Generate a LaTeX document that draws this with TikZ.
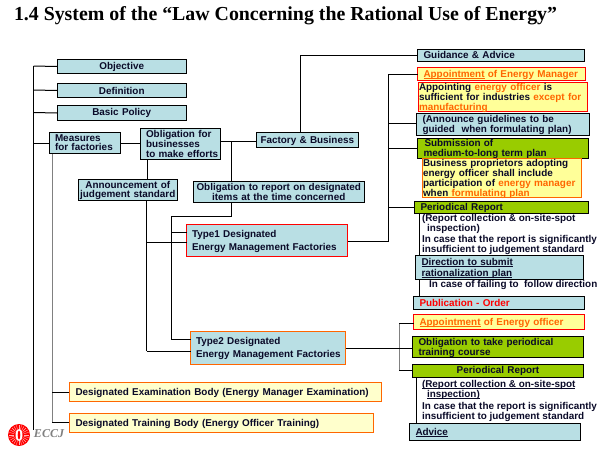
\documentclass[tikz,border=0pt]{standalone}
\usepackage{fontspec}
\setmainfont{Liberation Sans}
\newfontfamily\titlefont{Liberation Serif}
\definecolor{ink}{HTML}{0A0A28}
\definecolor{tealfill}{HTML}{B9DFE4}
\definecolor{yel}{HTML}{FFFF99}
\definecolor{paleyel}{HTML}{FFFFCC}
\definecolor{grn}{HTML}{99CC00}
\definecolor{org}{HTML}{FF6600}
\definecolor{grayline}{HTML}{808080}
\newcommand{\org}[1]{\textcolor{org}{#1}}
\newcommand{\ulin}[1]{\leavevmode\setbox0=\hbox{#1}\rlap{\rule[-1.7pt]{\wd0}{0.8pt}}\box0\relax}
\tikzset{
  x=1pt,y=-1pt,
  every node/.style={font={\fontsize{9.9}{9}\selectfont\bfseries},text=ink,inner ysep=0pt,outer sep=0pt},
  tealbox/.style={draw=black,fill=tealfill,line width=1pt},
  redbox/.style={draw=red,fill=tealfill,line width=1pt},
  orgbox/.style={draw=org,fill=tealfill,line width=1pt},
  yelred/.style={draw=red,fill=yel,line width=1pt},
  yelorg/.style={draw=org,fill=yel,line width=1pt},
  paleorg/.style={draw=org,fill=paleyel,line width=1pt},
  grnbox/.style={draw=black,fill=grn,line width=1pt},
  plain/.style={anchor=north west,align=left,inner sep=0pt},
  conn/.style={draw=black,line width=1pt},
  gconn/.style={draw=grayline,line width=1pt},
}
% left-aligned box: style, name, x1,y1,x2,y2, left indent, text
\newcommand{\mybox}[8]{%
  \pgfmathsetmacro{\mw}{#5-#3}\pgfmathsetmacro{\mh}{#6-#4}%
  \pgfmathsetmacro{\cx}{(#3+#5)/2}\pgfmathsetmacro{\cy}{(#4+#6)/2}%
  \node[#1,minimum width=\mw pt,minimum height=\mh pt,inner xsep=0pt,text width=\mw pt,align=left] (#2) at (\cx,\cy) {\hspace*{#7pt}\raisebox{-1pt}[\height][\depth]{\begin{tabular}{@{}l@{}}#8\end{tabular}}};%
}
% centred box: style, name, x1,y1,x2,y2, text
\newcommand{\mycbox}[7]{%
  \pgfmathsetmacro{\mw}{#5-#3}\pgfmathsetmacro{\mh}{#6-#4}%
  \pgfmathsetmacro{\cx}{(#3+#5)/2}\pgfmathsetmacro{\cy}{(#4+#6)/2}%
  \node[#1,minimum width=\mw pt,minimum height=\mh pt,inner xsep=0pt,text width=\mw pt,align=center] (#2) at (\cx,\cy) {#7};%
}
\begin{document}
\begin{tikzpicture}
\useasboundingbox (0,0) rectangle (600,450);
\fill[white] (0,0) rectangle (600,450);
\node[anchor=base west,inner sep=0pt,text=black,font={\fontsize{19.85}{20}\selectfont\titlefont\bfseries}] (title) at (14,20) {1.4 System of the “Law Concerning the Rational Use of Energy”};

% junction coordinates
\coordinate (sA) at (33.5,66);
\coordinate (sB) at (33.5,90);
\coordinate (sC) at (33.5,112.5);
\coordinate (sD) at (33.5,143);
\coordinate (sE) at (33.5,430);
\coordinate (mB) at (52,153);
\coordinate (mC) at (52,392);
\coordinate (mD) at (52,422);
\coordinate (fJ) at (231,141);
\coordinate (rA) at (231,202);
\coordinate (rB) at (231,216);
\coordinate (rC) at (171,216);
\coordinate (rD) at (171,232);
\coordinate (rE) at (171,339);
\coordinate (aA) at (146.5,200);
\coordinate (aB) at (146.5,242);
\coordinate (aC) at (146.5,351);
\coordinate (gA) at (300,132.5);
\coordinate (gB) at (300,55);
\coordinate (tA) at (348,241);
\coordinate (tB) at (388.5,241);
\coordinate (tT) at (388.5,74);
\coordinate (t1) at (388.5,123);
\coordinate (t2) at (388.5,148);
\coordinate (t3) at (388.5,207);
\coordinate (pA) at (419.5,213);
\coordinate (pB) at (419.5,296);
\coordinate (uA) at (399,323);
\coordinate (uB) at (399,370);
\coordinate (uC) at (345.5,348);
\coordinate (vA) at (416.5,377.5);
\coordinate (vB) at (416.5,423);

% connectors
\draw[conn] (sA) -- (sE);
\draw[gconn] (mB) -- (mD);
\draw[conn] (mC) -- (69,392);
\draw[conn] (mD) -- (69,422);
\draw[conn] (147,159) -- (147,179);
\draw[conn] (fJ) -- (231,181);
\draw[conn] (rA) -- (rB) -- (rC) -- (rE);
\draw[conn] (aA) -- (aC);
\draw[conn] (gA) -- (gB);
\draw[conn] (tA) -- (tB) -- (tT);
\draw[conn] (pA) -- (pB);
\draw[gconn] (uA) -- (uB);
\draw[conn] (vA) -- (vB);

% boxes
\mycbox{tealbox}{obj}{57}{59.5}{186.5}{73.5}{Objective}
\mycbox{tealbox}{def}{57}{83.5}{186.5}{97.5}{Definition}
\mycbox{tealbox}{pol}{57}{105.5}{186.5}{120.5}{Basic Policy}
\mybox{tealbox}{meas}{49.5}{132.5}{120.5}{153.5}{5.5}{Measures\\for factories}
\mybox{tealbox}{effort}{140.5}{128.5}{220.5}{159.5}{5.5}{Obligation for\\businesses\\to make efforts}
\mybox{tealbox}{fact}{256.5}{132.5}{358.5}{147.5}{4}{Factory \& Business}
\mycbox{tealbox}{judge}{78.5}{179.5}{177}{200.5}{Announcement of\\judgement standard}
\mycbox{tealbox}{rep}{193.5}{181.5}{364}{202.5}{Obligation to report on designated\\items at the time concerned}
\mybox{redbox}{typeA}{186.5}{224.5}{347.5}{256.5}{5.5}{Type1 Designated\\[3pt]Energy Management Factories}
\mybox{orgbox}{typeB}{190.5}{331.5}{345.5}{364}{5.5}{Type2 Designated\\[3pt]Energy Management Factories}
\mybox{paleorg}{exam}{69.5}{382.5}{381.5}{401.5}{6}{Designated Examination Body (Energy Manager Examination)}
\mybox{paleorg}{train}{69.5}{413.5}{373.5}{432.5}{6}{Designated Training Body (Energy Officer Training)}

\mybox{tealbox}{guide}{417.5}{49.5}{584.5}{61.5}{6}{Guidance \& Advice}
\mybox{yelred}{appm}{417.5}{67.5}{585.5}{80.5}{6}{\org{\ulin{Appointment} of Energy Manager}}
\mybox{yelred}{appo}{418.5}{83.5}{587.5}{110.5}{0.5}{Appointing \org{energy officer} is\\sufficient for industries \org{except for}\\\org{manufacturing}}
\mybox{tealbox}{annc}{416.5}{113.5}{589.5}{135.5}{6}{(Announce guidelines to be\\guided\ \ when formulating plan)}
\mybox{grnbox}{subm}{417.5}{138.5}{588.5}{158.5}{6}{\hspace*{1pt}Submission of\\medium-to-long term plan}
\mybox{yelorg}{prop}{422.5}{159.5}{581.5}{196.5}{0.5}{Business proprietors adopting\\energy officer shall include\\participation of \org{energy manager}\\when \org{formulating plan}}
\mybox{grnbox}{peri}{414.5}{201.5}{588.5}{213.5}{6}{Periodical Report}
\mybox{tealbox}{dirn}{415.5}{255.5}{583.5}{279.5}{6}{\ulin{Direction to submit}\\[1pt]\ulin{rationalization plan}}
\mybox{tealbox}{publ}{413.5}{296.5}{584.5}{309.5}{6}{\textcolor{red}{Publication - Order}}
\mybox{yelred}{appe}{413.5}{314.5}{584.5}{329.5}{6}{\org{\ulin{Appointment} of Energy officer}}
\mybox{grnbox}{oblt}{412.5}{336.5}{583.5}{357.5}{6}{Obligation to take periodical\\training course}
\mycbox{grnbox}{perj}{412.5}{364.5}{583.5}{377.5}{Periodical Report}
\mybox{tealbox}{advc}{409.5}{423.5}{580.5}{440.5}{6}{\ulin{Advice}}

% node-to-node connectors
\draw[conn] (sA) -- (obj.west);
\draw[conn] (sB) -- (def.west);
\draw[conn] (sC) -- (pol.west);
\draw[conn] (sD) -- (meas.west);
\draw[conn] (meas.east) -- (effort.west |- meas.east);
\draw[conn] (220.5,141) -- (fact.west |- 0,141);
\draw[conn] (rD) -- (typeA.west |- rD);
\draw[conn] (aB) -- (typeA.west |- aB);
\draw[conn] (rE) -- (typeB.west |- rE);
\draw[conn] (aC) -- (typeB.west |- aC);
\draw[conn] (gB) -- (guide.west |- gB);
\draw[conn] (tT) -- (appm.west |- tT);
\draw[conn] (t1) -- (annc.west |- t1);
\draw[conn] (t2) -- (subm.west |- t2);
\draw[conn] (t3) -- (peri.west |- t3);
\draw[conn] (uC) -- (oblt.west |- uC);
\draw[conn] (uA) -- (appe.west |- uA);
\draw[conn] (uB) -- (perj.west |- uB);

% free texts
\node[plain] (noteA) at (422,214) {\lineskiplimit=-10pt (Report collection \& on-site-spot\\\hspace*{5pt}inspection)\\[1pt]In case that the report is significantly\\insufficient to judgement standard};
\node[plain] (noteB) at (429,280) {In case of failing to\ \ follow direction};
\node[plain] (noteC) at (422,380) {\lineskiplimit=-10pt \ulin{(Report collection \& on-site-spot}\\\hspace*{5pt}\ulin{inspection)}\\[2pt]In case that the report is significantly\\insufficient to judgement standard};

% logo
\fill[red] (19,435) circle (11);
\foreach \a in {0,15,...,345}{\draw[white!70!red,line width=0.4pt] (19,435) ++(\a:5) -- ++(\a:5);}
\fill[white] (19,435) ellipse (3.5 and 6);
\fill[red] (19,435) ellipse (1.3 and 4.5);
\node[anchor=west,inner sep=0pt,text=grayline,font={\fontsize{12}{12}\selectfont\titlefont\bfseries\itshape}] (eccj) at (34,434) {ECCJ};
\end{tikzpicture}
\end{document}
